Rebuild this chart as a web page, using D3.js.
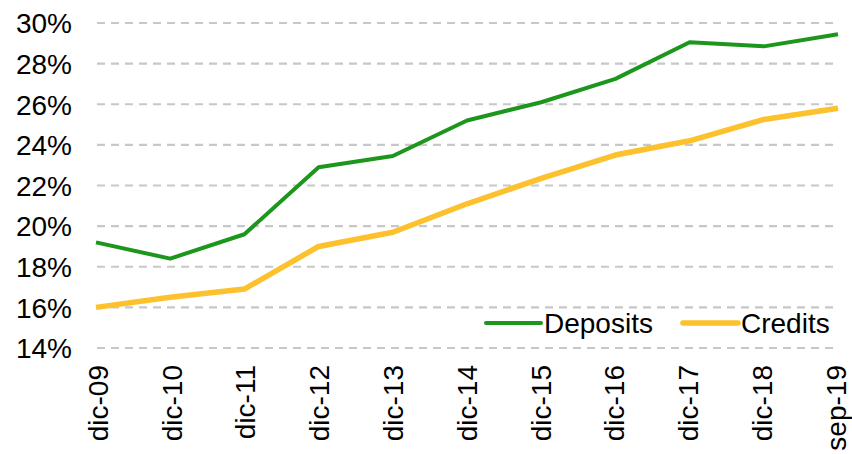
<!DOCTYPE html>
<html lang="en">
<head>
<meta charset="UTF-8" />
<title>Deposits and Credits</title>
<style>
  body { margin: 0; background: #fff; }
  text { font-family: "Liberation Sans", Arial, sans-serif; fill: #000; }
</style>
</head>
<body>
<svg width="852" height="454"></svg>
<script src="https://cdn.jsdelivr.net/npm/d3@7"></script>
<script>
var periods = ["dic-09", "dic-10", "dic-11", "dic-12", "dic-13", "dic-14", "dic-15", "dic-16", "dic-17", "dic-18", "sep-19"];
var deposits = [19.2, 18.4, 19.6, 22.9, 23.45, 25.2, 26.1, 27.25, 29.05, 28.85, 29.45];
var credits = [16.0, 16.5, 16.9, 19.0, 19.7, 21.1, 22.35, 23.5, 24.2, 25.25, 25.8];
var yTicks = [14, 16, 18, 20, 22, 24, 26, 28, 30];
var seriesNames = ["Deposits", "Credits"];

var svg = d3.select("svg");

var x = d3.scalePoint()
    .domain(periods)
    .range([96, 838]);

// labels sit a touch inside the line ends, as in the original
var xLabel = x.copy().range([97.5, 835.5]);

var y = d3.scaleLinear()
    .domain([14, 30])
    .range([348, 23]);

var color = d3.scaleOrdinal()
    .domain(seriesNames)
    .range(["#1c961c", "#fcc12c"]);

var widths = { "Deposits": 4, "Credits": 5.5 };

// grid lines
svg.append("g")
    .selectAll("line")
    .data(yTicks)
    .enter().append("line")
    .attr("x1", 97)
    .attr("x2", 838)
    .attr("y1", function(d) { return y(d); })
    .attr("y2", function(d) { return y(d); })
    .attr("stroke", "#c8c8c8")
    .attr("stroke-width", 2.2)
    .attr("stroke-dasharray", "8,6");

// y axis labels
var yAxis = svg.append("g")
    .attr("transform", "translate(72,0)")
    .call(d3.axisLeft(y).tickValues(yTicks).tickSize(0).tickPadding(0).tickFormat(function(d) { return d + "%"; }));
yAxis.select(".domain").remove();
yAxis.selectAll("text")
    .attr("font-size", "28px")
    .attr("dy", "0.35em");

// x axis labels
var xAxis = svg.append("g")
    .attr("transform", "translate(0,365)")
    .call(d3.axisBottom(xLabel).tickSize(0).tickPadding(0));
xAxis.select(".domain").remove();
xAxis.selectAll("text")
    .attr("font-size", "28px")
    .attr("transform", "rotate(-90)")
    .attr("text-anchor", "end")
    .attr("x", 0)
    .attr("y", 0)
    .attr("dy", "0.35em")
    .attr("dx", "0");

var table = [
    { name: "Deposits", values: deposits },
    { name: "Credits", values: credits }
];

var line = d3.line()
    .x(function(d, i) { return x(periods[i]); })
    .y(function(d) { return y(d); });

svg.append("g")
    .selectAll("path")
    .data(table)
    .enter().append("path")
    .attr("fill", "none")
    .attr("stroke", function(d) { return color(d.name); })
    .attr("stroke-width", function(d) { return widths[d.name]; })
    .attr("stroke-linejoin", "round")
    .attr("d", function(d) { return line(d.values); });

// legend
var legendPos = [486, 683];
var legend = svg.append("g")
    .selectAll("g")
    .data(seriesNames)
    .enter().append("g")
    .attr("transform", function(d, i) { return "translate(" + legendPos[i] + ",323)"; });

legend.append("line")
    .attr("x1", 0)
    .attr("x2", 55)
    .attr("stroke", color)
    .attr("stroke-width", function(d) { return widths[d]; })
    .attr("stroke-linecap", "round");

legend.append("text")
    .attr("x", 58)
    .attr("dy", "0.35em")
    .attr("font-size", "28px")
    .text(function(d) { return d; });
</script>
</body>
</html>
